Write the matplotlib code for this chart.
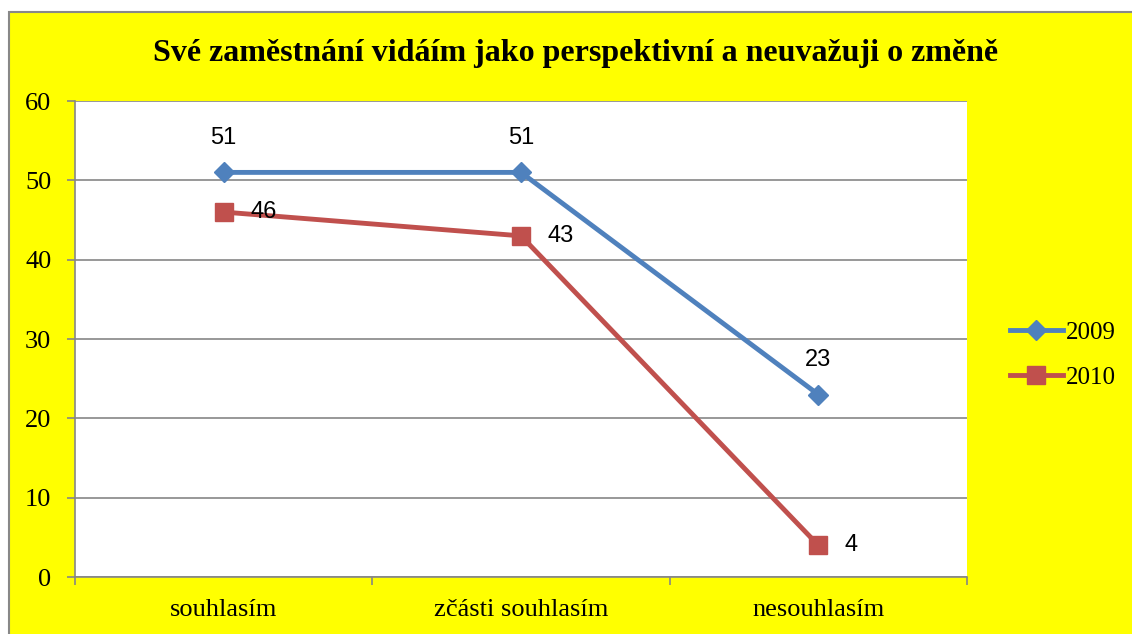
import matplotlib
matplotlib.use("Agg")
import matplotlib.pyplot as plt
from matplotlib.patches import Rectangle
from matplotlib.ticker import FixedLocator

categories = ["souhlasím", "zčásti souhlasím", "nesouhlasím"]
values_2009 = [51, 51, 23]
values_2010 = [46, 43, 4]
title = "Své zaměstnání vidáím jako perspektivní a neuvažuji o změně"

W, H = 1132, 634
fig = plt.figure(figsize=(W / 100, H / 100), dpi=100)
fig.patch.set_facecolor("white")
fig.patches.append(Rectangle((9 / W, -0.1), 1.2, (H - 12) / H + 0.1,
                             transform=fig.transFigure, facecolor="#FFFF00",
                             edgecolor="#888888", linewidth=1.5, zorder=-10))

ax = fig.add_axes([75 / W, 1 - 577 / H, (967 - 75) / W, (577 - 101) / H])
ax.set_facecolor("white")

serif = "Liberation Serif"
sans = "Liberation Sans"

x = list(range(len(categories)))
ax.plot(x, values_2009, color="#4F81BD", lw=3.5, marker="D", ms=10,
        label="2009", zorder=3)
ax.plot(x, values_2010, color="#C0504D", lw=3.5, marker="s", ms=13.5,
        label="2010", zorder=3)

for xi, v in zip(x, values_2009):
    ax.annotate(str(v), (xi, v), textcoords="offset points", xytext=(0, 25),
                ha="center", va="center", fontsize=17, family=sans)
for xi, v in zip(x, values_2010):
    ax.annotate(str(v), (xi, v), textcoords="offset points", xytext=(19, 0),
                ha="left", va="center", fontsize=17, family=sans)

ax.set_xlim(-0.5, 2.5)
ax.set_ylim(0, 60)
ax.set_yticks(range(0, 61, 10))
ax.yaxis.grid(True, color="#868686", lw=1.2)
ax.set_axisbelow(True)

ax.set_xticks(x)
ax.set_xticklabels(categories, family=serif, fontsize=19)
ax.xaxis.set_minor_locator(FixedLocator([-0.5, 0.5, 1.5, 2.5]))
ax.tick_params(axis="x", which="major", length=0, pad=16)
ax.tick_params(axis="x", which="minor", length=6, color="#868686", width=1.2)
ax.tick_params(axis="y", length=6, color="#868686", width=1.2, pad=11,
               labelsize=19)
for lbl in ax.get_yticklabels():
    lbl.set_family(serif)

for side in ["top", "right"]:
    ax.spines[side].set_visible(False)
for side in ["left", "bottom"]:
    ax.spines[side].set_color("#868686")
    ax.spines[side].set_linewidth(1.2)

fig.text(576 / W, 1 - 54 / H, title, ha="center", va="center",
         fontsize=23, fontweight="bold", family=serif)

leg = fig.legend(loc="center left", bbox_to_anchor=(1000 / W, 1 - 355 / H),
                 frameon=False, prop={"family": serif, "size": 18},
                 handlelength=2.1, handletextpad=0.15, labelspacing=0.9,
                 borderaxespad=0)

fig.savefig("out.png", dpi=100, facecolor=fig.get_facecolor())
